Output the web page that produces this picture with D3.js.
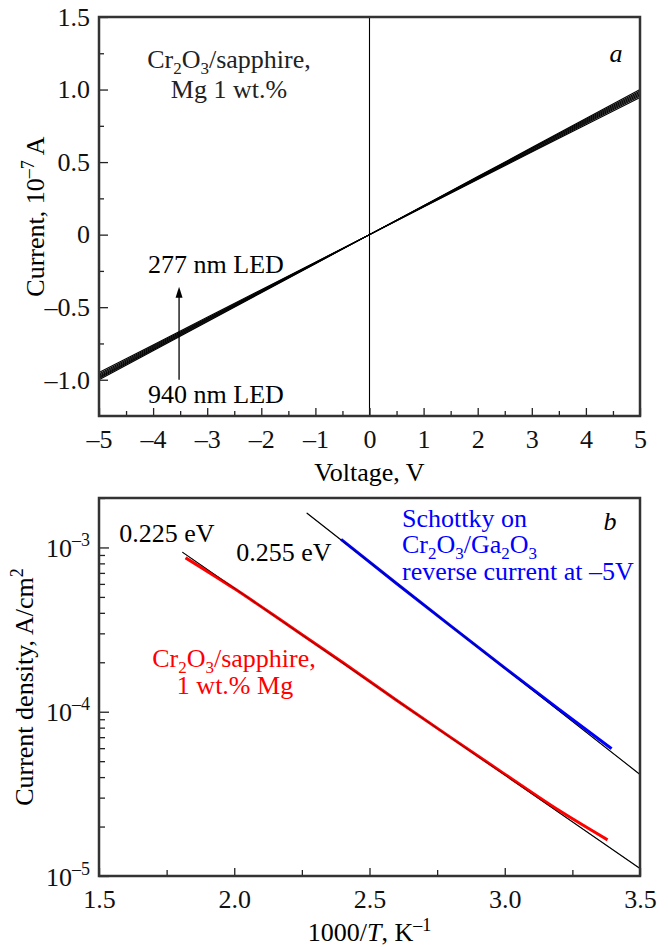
<!DOCTYPE html>
<html><head><meta charset="utf-8">
<script src="https://cdn.jsdelivr.net/npm/d3@7/dist/d3.min.js"></script>
<style>
html,body{margin:0;padding:0;background:#fff;}
text{font-family:"Liberation Serif","Times New Roman",serif;}
</style></head>
<body><svg id="c" width="669" height="947"></svg>
<script>
// ---------- Panel a data ----------
const voltage = [-5,-4,-3,-2,-1,0,1,2,3,4,5];
const ivSeries1 = [-1.000,-0.800,-0.600,-0.400,-0.200,0,0.200,0.400,0.600,0.800,1.000];
const ivSeries2 = [-0.992,-0.794,-0.596,-0.397,-0.199,0,0.199,0.397,0.595,0.793,0.990];
const ivSeries3 = [-0.985,-0.788,-0.591,-0.394,-0.197,0,0.197,0.394,0.590,0.786,0.982];
const ivSeries4 = [-0.977,-0.782,-0.586,-0.391,-0.195,0,0.195,0.391,0.586,0.780,0.973];
const ivSeries5 = [-0.969,-0.775,-0.581,-0.388,-0.194,0,0.193,0.387,0.580,0.773,0.964];
const ivSeries6 = [-0.960,-0.768,-0.576,-0.384,-0.192,0,0.192,0.384,0.575,0.766,0.955];
const ivSeries7 = [-0.950,-0.760,-0.570,-0.380,-0.190,0,0.190,0.380,0.569,0.758,0.945];
const ivAll = [ivSeries1,ivSeries2,ivSeries3,ivSeries4,ivSeries5,ivSeries6,ivSeries7];
const xTicksA = [-5,-4,-3,-2,-1,0,1,2,3,4,5];
const yTicksA = [-1.0,-0.5,0,0.5,1.0,1.5];
const yTickLabelsA = ["–1.0","–0.5","0","0.5","1.0","1.5"];
const xTickLabelsA = ["–5","–4","–3","–2","–1","0","1","2","3","4","5"];

// ---------- Panel b data ----------
const invT_red = [1.82,2.0,2.2,2.4,2.6,2.8,3.0,3.2,3.38];
const j_red    = [8.65e-4,5.62e-4,3.36e-4,2.0e-4,1.175e-4,6.98e-5,4.17e-5,2.51e-5,1.66e-5];
const invT_blue = [2.395,2.6,2.8,3.0,3.2,3.395];
const j_blue    = [1.12e-3,6.03e-4,3.33e-4,1.85e-4,1.035e-4,5.96e-5];
const fit225_x = [1.808,3.5];
const fit225_y = [9.36e-4,1.11e-5];
const fit255_x = [2.268,3.5];
const fit255_y = [1.62e-3,4.15e-5];
const xTicksB = [1.5,2.0,2.5,3.0,3.5];
const xTickLabelsB = ["1.5","2.0","2.5","3.0","3.5"];
const yTicksB = [1e-5,1e-4,1e-3];
const yTickExpB = ["–5","–4","–3"];

const svg = d3.select("#c");
const FS = 26, SUB = 17, SUBDY = 6;
const frameColor = "#333";

function styleAxis(g){
  g.select(".domain").remove();
  g.selectAll(".tick line").attr("stroke","#222").attr("stroke-width",1.3);
  g.selectAll(".tick text").attr("font-size",FS).attr("fill","#111")
   .attr("font-family",'"Liberation Serif",serif');
}
function chem(t, parts){
  // parts: array of [string, isSub]
  let sub=false;
  parts.forEach(([s,isSub])=>{
    const ts=t.append("tspan").text(s);
    if(isSub && !sub){ts.attr("dy",SUBDY).attr("font-size",SUB);sub=true;}
    else if(isSub && sub){ts.attr("font-size",SUB);}
    else if(!isSub && sub){ts.attr("dy",-SUBDY);sub=false;}
  });
}

// ================= Panel a =================
const L=99,R=640;
const xa = d3.scaleLinear().domain([-5,5]).range([L,R]);
const ya = d3.scaleLinear().domain([-1.25,1.5]).range([416,17]);
const ga = svg.append("g");

ga.append("line").attr("x1",xa(0)).attr("x2",xa(0)).attr("y1",ya(1.5)).attr("y2",ya(-1.25))
  .attr("stroke","#000").attr("stroke-width",1.1);

const lineA = d3.line().x((d,i)=>xa(voltage[i])).y(d=>ya(d));
ivAll.forEach(s=>{
  ga.append("path").attr("d",lineA(s)).attr("fill","none").attr("stroke","#000").attr("stroke-width",1.1);
});

const axA_xMin = d3.axisBottom(xa).tickValues(d3.range(-4.5,5,1)).tickSize(-5).tickFormat("");
ga.append("g").attr("transform",`translate(0,${ya(-1.25)})`).call(axA_xMin).call(styleAxis);
const axA_x = d3.axisBottom(xa).tickValues(xTicksA).tickSize(-8).tickPadding(14)
  .tickFormat((d,i)=>xTickLabelsA[i]);
ga.append("g").attr("transform",`translate(0,${ya(-1.25)})`).call(axA_x).call(styleAxis);
const axA_yMin = d3.axisLeft(ya).tickValues([-0.75,-0.25,0.25,0.75,1.25]).tickSize(-5).tickFormat("");
ga.append("g").attr("transform",`translate(${L},0)`).call(axA_yMin).call(styleAxis);
const axA_y = d3.axisLeft(ya).tickValues(yTicksA).tickSize(-9).tickPadding(9)
  .tickFormat((d,i)=>yTickLabelsA[i]);
ga.append("g").attr("transform",`translate(${L},0)`).call(axA_y).call(styleAxis);

ga.append("rect").attr("x",L).attr("y",ya(1.5)).attr("width",R-L).attr("height",ya(-1.25)-ya(1.5))
  .attr("fill","none").attr("stroke",frameColor).attr("stroke-width",2.5);

ga.append("text").attr("x",(L+R)/2).attr("y",481).attr("text-anchor","middle").attr("font-size",FS)
  .text("Voltage, V");
const ytA = ga.append("text").attr("transform",`translate(44,${(ya(1.5)+ya(-1.25))/2}) rotate(-90)`)
  .attr("text-anchor","middle").attr("font-size",FS);
ytA.append("tspan").text("Current, 10");
ytA.append("tspan").attr("dy",-10).attr("font-size",18).text("–7");
ytA.append("tspan").attr("dy",10).text(" A");

const tA = ga.append("text").attr("x",229).attr("y",68).attr("text-anchor","middle").attr("font-size",FS).attr("fill","#222");
chem(tA,[["Cr",0],["2",1],["O",0],["3",1],["/sapphire,",0]]);
ga.append("text").attr("x",229).attr("y",98).attr("text-anchor","middle").attr("font-size",FS).attr("fill","#222")
  .text("Mg 1 wt.%");
ga.append("text").attr("x",616).attr("y",62).attr("text-anchor","middle").attr("font-size",FS)
  .attr("font-style","italic").text("a");
ga.append("text").attr("x",216).attr("y",273).attr("text-anchor","middle").attr("font-size",FS).text("277 nm LED");
ga.append("text").attr("x",216).attr("y",403).attr("text-anchor","middle").attr("font-size",FS).text("940 nm LED");
const arrX = xa(-3.52), arrY0 = ya(-1.0), arrY1 = ya(-0.36);
ga.append("line").attr("x1",arrX).attr("x2",arrX).attr("y1",arrY0).attr("y2",arrY1+8)
  .attr("stroke","#000").attr("stroke-width",1.3);
ga.append("path").attr("d",`M${arrX},${arrY1} L${arrX-3.5},${arrY1+11} L${arrX+3.5},${arrY1+11} Z`).attr("fill","#000");

// ================= Panel b =================
const xb = d3.scaleLinear().domain([1.5,3.5]).range([L,R]);
const yb = d3.scaleLog().domain([1e-5,2e-3]).range([876,498]);
const gb = svg.append("g");

const lineFit = d3.line().x(d=>xb(d[0])).y(d=>yb(d[1]));
const lineData = d3.line().x(d=>xb(d[0])).y(d=>yb(d[1])).curve(d3.curveMonotoneX);
const fitA = fit225_x.map((x,i)=>[x,fit225_y[i]]);
const fitB = fit255_x.map((x,i)=>[x,fit255_y[i]]);
gb.append("path").attr("d",lineFit(fitA)).attr("fill","none").attr("stroke","#000").attr("stroke-width",1.1);
gb.append("path").attr("d",lineFit(fitB)).attr("fill","none").attr("stroke","#000").attr("stroke-width",1.1);
gb.append("path").attr("d",lineData(invT_red.map((x,i)=>[x,j_red[i]]))).attr("fill","none")
  .attr("stroke","#ff0000").attr("stroke-width",3);
gb.append("path").attr("d",lineData(invT_blue.map((x,i)=>[x,j_blue[i]]))).attr("fill","none")
  .attr("stroke","#0000ff").attr("stroke-width",3);
gb.append("path").attr("d",lineFit(fitA)).attr("fill","none").attr("stroke","#000").attr("stroke-width",0.8).attr("opacity",0.6);
gb.append("path").attr("d",lineFit(fitB)).attr("fill","none").attr("stroke","#000").attr("stroke-width",0.8).attr("opacity",0.6);

const axB_xMin = d3.axisBottom(xb).tickValues([1.75,2.25,2.75,3.25]).tickSize(-6).tickFormat("");
gb.append("g").attr("transform",`translate(0,876)`).call(axB_xMin).call(styleAxis);
const axB_x = d3.axisBottom(xb).tickValues(xTicksB).tickSize(-8).tickPadding(14)
  .tickFormat((d,i)=>xTickLabelsB[i]);
gb.append("g").attr("transform",`translate(0,876)`).call(axB_x).call(styleAxis);
const minorB = [];
[1e-5,1e-4,1e-3].forEach(dec=>{for(let k=2;k<=9;k++){const v=dec*k; if(v<=2e-3) minorB.push(v);}});
const axB_yMin = d3.axisLeft(yb).tickValues(minorB).tickSize(-6).tickFormat("");
gb.append("g").attr("transform",`translate(${L},0)`).call(axB_yMin).call(styleAxis);
const axB_y = d3.axisLeft(yb).tickValues(yTicksB).tickSize(-10).tickPadding(9).tickFormat("");
const gby = gb.append("g").attr("transform",`translate(${L},0)`).call(axB_y).call(styleAxis);
gby.selectAll(".tick").each(function(d,i){
  const t = d3.select(this).select("text").attr("dy",null).attr("y",9);
  t.append("tspan").text("10");
  t.append("tspan").attr("dy",-11).attr("font-size",18).text(yTickExpB[i]);
});

gb.append("rect").attr("x",L).attr("y",498).attr("width",R-L).attr("height",876-498)
  .attr("fill","none").attr("stroke",frameColor).attr("stroke-width",2.5);

const xtB = gb.append("text").attr("x",(L+R)/2).attr("y",941).attr("text-anchor","middle").attr("font-size",FS);
xtB.append("tspan").text("1000/");
xtB.append("tspan").attr("font-style","italic").text("T");
xtB.append("tspan").text(", K");
xtB.append("tspan").attr("dy",-10).attr("font-size",18).text("–1");
const ytB = gb.append("text").attr("transform",`translate(33,687) rotate(-90)`)
  .attr("text-anchor","middle").attr("font-size",FS);
ytB.append("tspan").text("Current density, A/cm");
ytB.append("tspan").attr("dy",-10).attr("font-size",18).text("2");

gb.append("text").attr("x",167).attr("y",542).attr("text-anchor","middle").attr("font-size",FS).text("0.225 eV");
gb.append("text").attr("x",284).attr("y",561).attr("text-anchor","middle").attr("font-size",FS).text("0.255 eV");
gb.append("text").attr("x",610).attr("y",530).attr("text-anchor","middle").attr("font-size",FS)
  .attr("font-style","italic").text("b");
const rt = gb.append("text").attr("x",234).attr("y",667).attr("text-anchor","middle").attr("font-size",FS).attr("fill","#ff0000");
chem(rt,[["Cr",0],["2",1],["O",0],["3",1],["/sapphire,",0]]);
gb.append("text").attr("x",235).attr("y",694).attr("text-anchor","middle").attr("font-size",FS).attr("fill","#ff0000")
  .text("1 wt.% Mg");
gb.append("text").attr("x",402).attr("y",527).attr("font-size",FS).attr("fill","#0000ff").text("Schottky on");
const bt = gb.append("text").attr("x",402).attr("y",553).attr("font-size",FS).attr("fill","#0000ff");
chem(bt,[["Cr",0],["2",1],["O",0],["3",1],["/Ga",0],["2",1],["O",0],["3",1]]);
gb.append("text").attr("x",402).attr("y",580).attr("font-size",FS).attr("fill","#0000ff").text("reverse current at –5V");
</script></body></html>
